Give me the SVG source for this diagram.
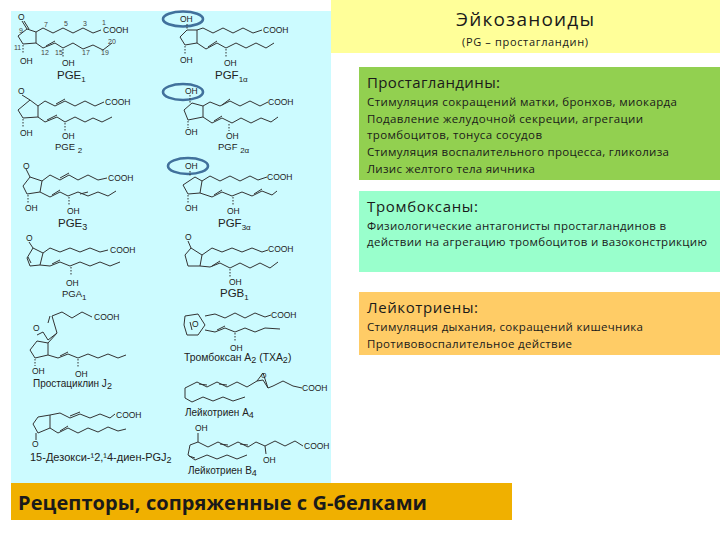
<svg xmlns="http://www.w3.org/2000/svg" width="720" height="540" viewBox="0 0 720 540">
<style>
text{font-family:"Liberation Sans",Arial,sans-serif;fill:#222}
.b{fill:none;stroke:#333;stroke-width:1;stroke-linejoin:round}
.h{fill:none;stroke:#333;stroke-width:1;stroke-dasharray:1.5 1.5}
.a{font-size:8.5px}
.n{font-size:7px;fill:#444}
.l{font-size:11.5px}
.c{font-size:9.5px}
.e{fill:none;stroke:#41719c;stroke-width:2.6}
.r{font-family:"Open Sans","Noto Sans",sans-serif;fill:#1a1a1a}
.t{font-size:15px}
.d{font-size:11.5px}
</style>
<rect width="720" height="540" fill="#fff"/>
<rect id="panel" x="11" y="11" width="320" height="472" fill="#ccfbff"/>
<g id="pge1">
<path class="b" d="M22 21L27 29L36 32L36 43L23 44L18 36L27 29M36 32L43 28L53 33L63 28L73 33L83 28L93 33L101 30M36 43L43 48L55 43L63 48L73 43L83 49L93 45L103 50L112 43M46 46L55 41M24 21L29 29"/>
<path class="h" d="M23 45V54M63 49V57"/>
<text class="a" x="18" y="20">O</text><text class="a" x="103" y="33">COOH</text><text class="a" x="20" y="64">OH</text><text class="a" x="62" y="66">OH</text>
<text class="n" x="44" y="27">7</text><text class="n" x="64" y="26">5</text><text class="n" x="83" y="26">3</text><text class="n" x="102" y="25">1</text><text class="n" x="19" y="33">9</text><text class="n" x="14" y="50">11</text><text class="n" x="41" y="55">12</text><text class="n" x="55" y="55">15</text><text class="n" x="82" y="55">17</text><text class="n" x="101" y="55">19</text><text class="n" x="108" y="44">20</text>
<text class="l" x="57" y="79">PGE<tspan font-size="8" dy="3">1</tspan></text>
</g>
<g id="pgf1a">
<ellipse class="e" cx="183" cy="19" rx="20" ry="7.5"/>
<path class="b" d="M197 30L197 43L185 45L180 37L187 30ZM197 30L203 28L213 33L223 28L233 33L243 28L253 33L262 30M197 43L206 49L217 43L226 48L236 43L246 48L256 43L266 48L274 43M208 47L217 41"/>
<path class="h" d="M187 24V30M185 46V54M226 49V57"/>
<text class="a" x="180" y="22">OH</text><text class="a" x="263" y="33">COOH</text><text class="a" x="180" y="63">OH</text><text class="a" x="224" y="66">OH</text>
<text class="l" x="215" y="79">PGF<tspan font-size="8" dy="3">1α</tspan></text>
</g>
<g id="pge2">
<path class="b" d="M22 95L30 100L38 106L38 117L23 118L18 110L30 100M38 106L45 101L55 106L65 101L75 106L85 101L95 106L104 102M38 117L45 122L57 117L65 122L75 117L85 122L93 118L102 122L112 117M56 104L65 99M47 120L57 115"/>
<path class="h" d="M23 119V127M65 123V131"/>
<text class="a" x="18" y="94">O</text><text class="a" x="105" y="105">COOH</text><text class="a" x="20" y="136">OH</text><text class="a" x="62" y="139">OH</text>
<text class="c" x="55" y="150">PGE <tspan font-size="8" dy="3">2</tspan></text>
</g>
<g id="pgf2a">
<ellipse class="e" cx="183" cy="92" rx="20" ry="8"/>
<path class="b" d="M192 103L203 106L203 117L188 120L184 110ZM203 106L210 102L220 106L230 101L240 106L250 101L260 106L268 102M203 117L212 123L222 118L232 123L241 118L251 123L261 118L271 122L278 117M222 105L230 99M214 121L222 116"/>
<path class="h" d="M190 95V103M188 121V128M229 124V131"/>
<text class="a" x="185" y="94">OH</text><text class="a" x="268" y="105">COOH</text><text class="a" x="185" y="135">OH</text><text class="a" x="226" y="139">OH</text>
<text class="c" x="218" y="150">PGF <tspan font-size="8" dy="3">2α</tspan></text>
</g>
<g id="pge3">
<path class="b" d="M26 169L30 177L42 181L40 192L27 194L23 186L30 177M42 181L50 175L60 180L69 175L78 180L88 175L98 180L107 178M40 192L50 197L60 192L68 196L78 192L88 196L98 192L108 196L116 191M60 178L69 173M52 195L60 190M80 194L88 192"/>
<path class="h" d="M28 195V203M69 197V205"/>
<text class="a" x="23" y="169">O</text><text class="a" x="108" y="181">COOH</text><text class="a" x="25" y="211">OH</text><text class="a" x="67" y="214">OH</text>
<text class="l" x="58" y="227">PGE<tspan font-size="9" dy="3">3</tspan></text>
</g>
<g id="pgf3a">
<ellipse class="e" cx="188" cy="166" rx="20" ry="8"/>
<path class="b" d="M195 177L202 181L200 193L188 194L183 185ZM202 181L210 176L220 181L230 176L240 181L250 176L258 180L267 177M200 193L212 197L222 192L232 196L242 192L252 196L262 191L272 195L277 191M214 195L222 190M254 194L262 189"/>
<path class="h" d="M190 171V177M188 195V203M233 197V205"/>
<text class="a" x="185" y="169">OH</text><text class="a" x="267" y="180">COOH</text><text class="a" x="185" y="211">OH</text><text class="a" x="227" y="214">OH</text>
<text class="l" x="218" y="227">PGF<tspan font-size="8" dy="3">3α</tspan></text>
</g>
<g id="pga1">
<path class="b" d="M29 242L33 248L43 253L40 265L30 266L27 258L33 248M43 253L50 248L60 252L70 248L80 252L90 248L100 252L108 250M40 265L50 266L60 262L70 266L80 262L90 266L100 262L110 266L120 262M28 257L31 263M52 264L60 260"/>
<path class="h" d="M71 267V276"/>
<text class="a" x="26" y="241">O</text><text class="a" x="110" y="253">COOH</text><text class="a" x="66" y="286">OH</text>
<text class="c" x="62" y="297">PGA<tspan font-size="8" dy="3">1</tspan></text>
</g>
<g id="pgb1">
<path class="b" d="M188 241L191 248L202 255L200 266L188 266L185 255L191 248M202 255L212 248L222 252L232 248L242 252L252 248L262 252L268 250M200 266L210 267L220 263L230 268L240 263L250 268L260 263L270 268L278 262M212 266L220 261"/>
<path class="h" d="M230 269V277"/>
<text class="a" x="185" y="240">O</text><text class="a" x="268" y="252">COOH</text><text class="a" x="229" y="285">OH</text>
<text class="l" x="220" y="297">PGB<tspan font-size="8" dy="3">1</tspan></text>
</g>
<g id="pgj2">
<path class="b" d="M52 316L62 312L72 318L82 312L92 317M52 316L57 333L48 340L43 332L37 335M50 316L48 323M37 341L30 350L35 358L48 355L48 343L37 341M48 343L57 333M48 355L58 358L68 354L78 358L88 354L98 358L108 354L118 358L126 355M60 356L68 352"/>
<path class="h" d="M35 359V366M78 359V367"/>
<text class="a" x="33" y="331">O</text><text class="a" x="94" y="320">COOH</text><text class="a" x="32" y="374">OH</text><text class="a" x="75" y="377">OH</text>
<text x="33" y="387" style="font-size:10px">Простациклин J<tspan font-size="9" dy="2">2</tspan></text>
</g>
<g id="dpgj2">
<path class="b" d="M38 417L50 415L50 428L38 433L33 424ZM36 433L36 440M50 415L60 413L70 418L80 414L90 418L100 414L110 418L115 414M50 428L58 433L68 428L78 433L88 428L98 432L108 427L118 431L126 429M60 431L68 426M70 416L80 412"/>
<text class="a" x="32" y="447">O</text><text class="a" x="116" y="418">COOH</text>
<text x="30" y="461" style="font-size:11px">15-Дезокси-¹2,¹4-диен-PGJ<tspan font-size="9" dy="2">2</tspan></text>
</g>
<g id="txa2">
<path class="b" d="M185 316L198 314L205 325L198 335L187 335L184 325ZM205 316L215 314L225 318L235 313L245 318L255 313L265 317L271 315M205 330L215 332L225 328L235 332L245 328L255 332L265 328L280 329M190 322L192 330M217 330L225 326"/>
<path class="h" d="M235 333V341"/>
<text class="a" x="192" y="327">O</text><text class="a" x="271" y="318">COOH</text><text class="a" x="230" y="351">OH</text>
<text x="184" y="361" style="font-size:10.4px">Тромбоксан A<tspan font-size="9" dy="2">2</tspan><tspan dy="-2"> (TXA</tspan><tspan font-size="9" dy="2">2</tspan><tspan dy="-2">)</tspan></text>
</g>
<g id="lta4">
<path class="b" d="M185 388L197 382L207 387L217 382L227 387L237 382L247 387L257 381L263 380L268 388L273 386L283 381L293 386L302 388M257 381L263 373L268 388M185 388L185 398L192 402L203 397L213 401L223 397L233 401L245 397M199 384L207 385M219 384L227 385"/>
<text class="a" x="261" y="378" style="font-size:7px">O</text><text class="a" x="302" y="391">COOH</text>
<text x="185" y="416" style="font-size:10px">Лейкотриен A<tspan font-size="9" dy="2">4</tspan></text>
</g>
<g id="ltb4">
<path class="b" d="M198 433L198 442L190 445L188 455L195 460L207 455L217 459L227 455L237 459L247 455M198 442L208 447L218 442L228 447L238 442L248 447L256 442L265 446L275 441L285 446L295 441L303 446M265 446L266 454M220 444L228 445M240 444L248 445M189 456L195 458"/>
<text class="a" x="195" y="431">OH</text><text class="a" x="304" y="449">COOH</text><text class="a" x="263" y="463">OH</text>
<text x="188" y="474" style="font-size:10px">Лейкотриен B<tspan font-size="9" dy="2">4</tspan></text>
</g>
<g id="title">
<rect x="331" y="0" width="389" height="53" fill="#ffff99"/>
<text class="r" x="525" y="26" font-size="19" text-anchor="middle" textLength="138">Эйкозаноиды</text>
<text class="r" x="525" y="46" font-size="11" text-anchor="middle" textLength="126">(PG – простагландин)</text>
</g>
<g id="pg">
<rect x="359" y="67" width="361" height="113" fill="#92d050"/>
<text class="r t" x="367" y="88" textLength="133">Простагландины:</text>
<text class="r d" x="367" y="106" textLength="310">Стимуляция сокращений матки, бронхов, миокарда</text>
<text class="r d" x="367" y="123" textLength="276">Подавление желудочной секреции, агрегации</text>
<text class="r d" x="367" y="139" textLength="175">тромбоцитов, тонуса сосудов</text>
<text class="r d" x="367" y="156" textLength="302">Стимуляция воспалительного процесса, гликолиза</text>
<text class="r d" x="367" y="173" textLength="168">Лизис желтого тела яичника</text>
</g>
<g id="tx">
<rect x="359" y="191" width="361" height="81" fill="#99ffcc"/>
<text class="r t" x="367" y="212" textLength="111">Тромбоксаны:</text>
<text class="r d" x="367" y="230" textLength="299">Физиологические антагонисты простагландинов в</text>
<text class="r d" x="367" y="246" textLength="340">действии на агрегацию тромбоцитов и вазоконстрикцию</text>
</g>
<g id="lt">
<rect x="359" y="292" width="361" height="63" fill="#ffcc66"/>
<text class="r t" x="367" y="313" textLength="111">Лейкотриены:</text>
<text class="r d" x="367" y="331" textLength="276">Стимуляция дыхания, сокращений кишечника</text>
<text class="r d" x="367" y="348" textLength="205">Противовоспалительное действие</text>
</g>
<g id="receptors">
<rect x="11" y="483" width="501" height="37" fill="#f0b000"/>
<text class="r" x="18" y="510" font-size="20" font-weight="700" textLength="409">Рецепторы, сопряженные с G-белками</text>
</g>
</svg>
